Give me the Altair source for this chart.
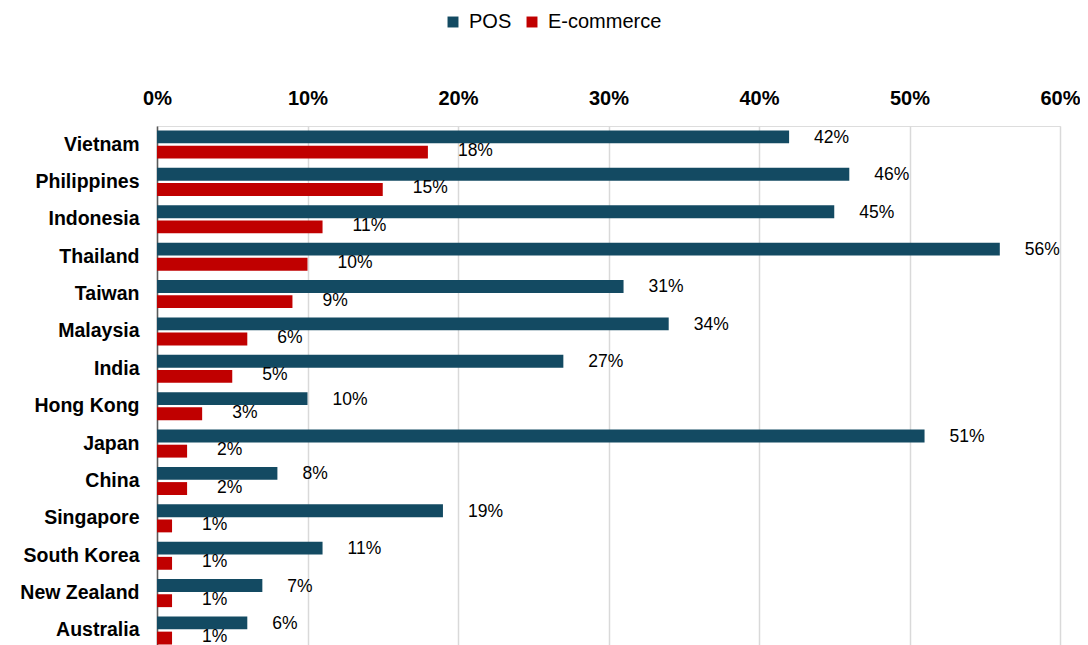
import altair as alt
import pandas as pd

countries = ["Vietnam", "Philippines", "Indonesia", "Thailand", "Taiwan", "Malaysia", "India",
             "Hong Kong", "Japan", "China", "Singapore", "South Korea", "New Zealand", "Australia"]
pos = [42, 46, 45, 56, 31, 34, 27, 10, 51, 8, 19, 11, 7, 6]
ecom = [18, 15, 11, 10, 9, 6, 5, 3, 2, 2, 1, 1, 1, 1]
series = ["POS", "E-commerce"]
colors = ["#134A62", "#C00000"]

rows = []
for c, p, e in zip(countries, pos, ecom):
    rows.append({"country": c, "series": "POS", "value": p, "label": f"{p}%"})
    rows.append({"country": c, "series": "E-commerce", "value": e, "label": f"{e}%"})
df = pd.DataFrame(rows)

font = "Liberation Sans"

y = alt.Y("country:N", sort=countries, title=None,
          scale=alt.Scale(paddingInner=0.25, paddingOuter=0.12),
          axis=alt.Axis(labelFont=font, labelFontSize=19.5, labelFontWeight="bold",
                        labelColor="#000000", ticks=False, labelPadding=18,
                        domainColor="#595959", domainWidth=1.5, grid=False))
x = alt.X("value:Q", title=None,
          scale=alt.Scale(domain=[0, 60], nice=False),
          axis=alt.Axis(orient="top", values=[0, 10, 20, 30, 40, 50, 60],
                        labelExpr="datum.value + '%'", labelFont=font, labelFontSize=20,
                        labelFontWeight="bold", labelColor="#000000", ticks=False,
                        labelFlush=False, domain=False, grid=True,
                        gridColor="#D9D9D9", gridWidth=1.5, labelPadding=18))
yoff = alt.YOffset("series:N", sort=series, scale=alt.Scale(paddingInner=0.15))

bars = alt.Chart(df).mark_bar().encode(
    x=x, y=y, yOffset=yoff,
    color=alt.Color("series:N", sort=series,
                    scale=alt.Scale(domain=series, range=colors),
                    legend=alt.Legend(title=None, orient="none", direction="horizontal",
                                      legendX=286, legendY=-114, symbolType="square",
                                      symbolSize=120, labelFont=font, labelFontSize=20,
                                      labelColor="#000000", columnPadding=10,
                                      labelOffset=6, symbolStrokeWidth=0)),
)

def labels(name, dx, dy):
    return alt.Chart(df).transform_filter(alt.datum.series == name).mark_text(
        align="left", baseline="middle", dx=dx, dy=dy,
        font=font, fontSize=17.5, color="#000000").encode(
        x=alt.X("value:Q"), y=alt.Y("country:N", sort=countries),
        yOffset=yoff, text="label:N",
    )

chart = (bars + labels("POS", 25, 1) + labels("E-commerce", 30, -1)).properties(
    width=903, height=523,
    padding={"left": 149, "top": 118, "right": 20, "bottom": 5},
    autosize=alt.AutoSizeParams(type="none"),
).configure_view(stroke=None).configure(background="white")

chart.save("out.html", embed_options={"renderer": "svg", "actions": False})
